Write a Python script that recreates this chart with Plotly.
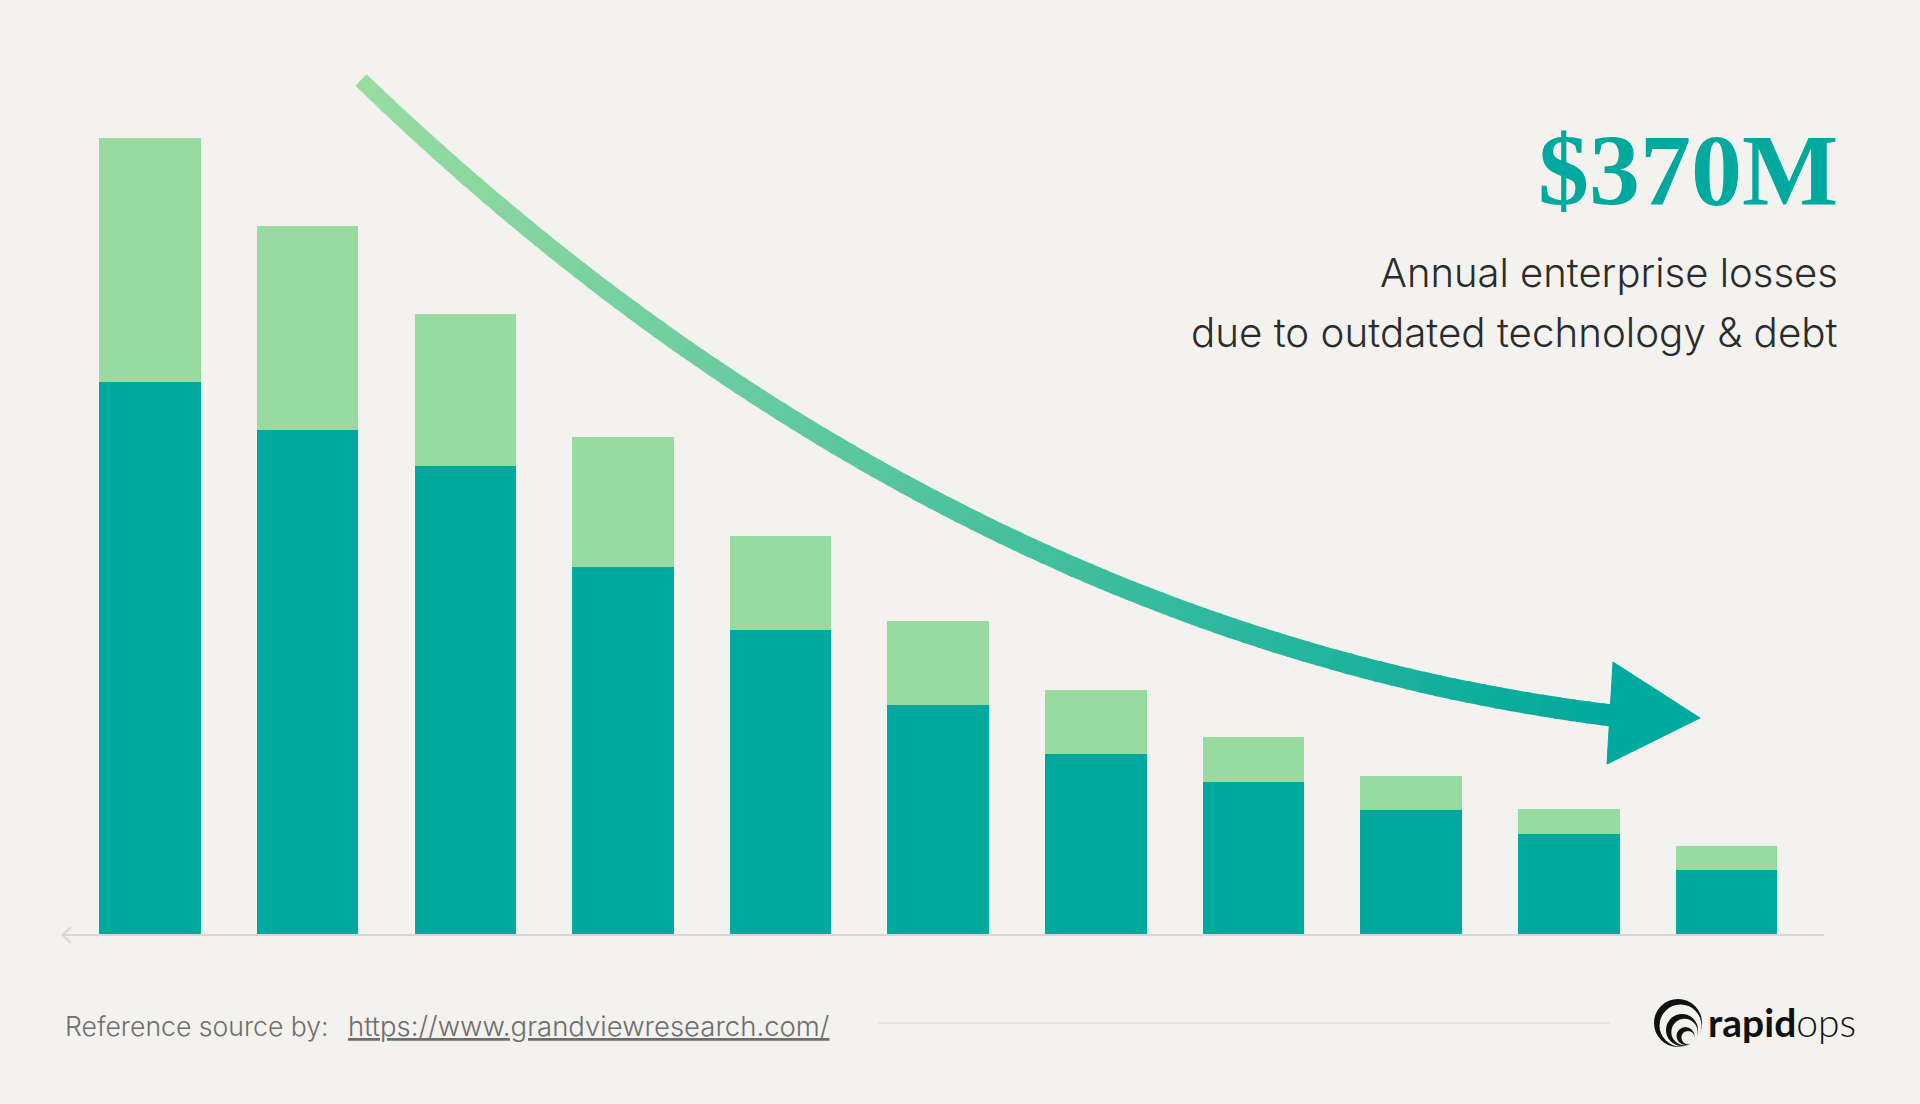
import plotly.graph_objects as go

# ---------------- data (arbitrary units) ----------------
categories = ["1", "2", "3", "4", "5", "6", "7", "8", "9", "10", "11"]
base_values = [451, 412, 382, 300, 248, 187, 147, 124, 101, 82, 52]
top_values = [199, 166, 124, 106, 77, 69, 52, 37, 28, 20, 20]

headline = "$370M"
subtitle_lines = ["Annual enterprise losses", "due to outdated technology & debt"]
source_label = "Reference source by:"
source_url = "https://www.grandviewresearch.com/"

# ---------------- styling ----------------
W, H = 1920, 1104
BG = "#F3F2EE"
DARK = "#00A99D"
LIGHT = "#98DBA0"


def X(px):
    return px / W


def Y(py):
    return 1 - py / H


# layout of the plot frame (pixels)
first_center_px = 150.0
step_px = 157.65
baseline_px = 934.0
unit_px = 1.2245

x_range = [-first_center_px / step_px, (W - first_center_px) / step_px]
y_range = [-(H - baseline_px) / unit_px, baseline_px / unit_px]

xs = list(range(len(categories)))

fig = go.Figure()
fig.add_trace(go.Bar(x=xs, y=base_values, marker=dict(color=DARK, line=dict(width=0)),
                     width=0.644, hoverinfo="skip", name="base"))
fig.add_trace(go.Bar(x=xs, y=top_values, marker=dict(color=LIGHT, line=dict(width=0)),
                     width=0.644, hoverinfo="skip", name="top"))

shapes = []

# axis baseline with left arrow
shapes.append(dict(type="line", xref="paper", yref="paper",
                   x0=X(62), x1=X(1824), y0=Y(935), y1=Y(935),
                   line=dict(color="#D8D7D3", width=2), layer="below"))
shapes.append(dict(type="path", xref="paper", yref="paper",
                   path=f"M{X(71)},{Y(927)} L{X(62.5)},{Y(935)} L{X(71)},{Y(943)}",
                   line=dict(color="#D8D7D3", width=2)))

# footer separator line
shapes.append(dict(type="line", xref="paper", yref="paper",
                   x0=X(878), x1=X(1610), y0=Y(1023), y1=Y(1023),
                   line=dict(color="#E4E3DF", width=2)))

# gradient curved arrow (decoration)
P = [(361, 80), (735, 441), (1163, 661), (1616, 716)]


def bez(t):
    a = (1 - t) ** 3
    b = 3 * (1 - t) ** 2 * t
    c = 3 * (1 - t) * t ** 2
    d = t ** 3
    return (a * P[0][0] + b * P[1][0] + c * P[2][0] + d * P[3][0],
            a * P[0][1] + b * P[1][1] + c * P[2][1] + d * P[3][1])


c0 = (154, 220, 160)
c1 = (0, 169, 157)
N = 90
for i in range(N):
    t0 = i / N
    t1 = min(1.0, (i + 1.25) / N)
    tm = (t0 + t1) / 2
    col = tuple(int(round(c0[k] + (c1[k] - c0[k]) * tm)) for k in range(3))
    w = 16 + 6 * tm
    xa, ya = bez(t0)
    xb, yb = bez(t1)
    shapes.append(dict(type="line", xref="paper", yref="paper",
                       x0=X(xa), y0=Y(ya), x1=X(xb), y1=Y(yb),
                       line=dict(color=f"rgb{col}", width=w)))

# arrow head
shapes.append(dict(type="path", xref="paper", yref="paper",
                   path=f"M{X(1613)},{Y(662)} L{X(1700)},{Y(718)} L{X(1607)},{Y(764)} Z",
                   fillcolor=DARK, line=dict(color=DARK, width=1)))


# logo icon (nested crescents)
def circ(cx, cy, r, color):
    return dict(type="circle", xref="paper", yref="paper",
                x0=X(cx - r), x1=X(cx + r), y0=Y(cy + r), y1=Y(cy - r),
                fillcolor=color, line=dict(width=0))


shapes += [
    circ(1678, 1023, 24, "#111111"),
    circ(1680.5, 1025.5, 21, BG),
    circ(1682, 1030, 16, "#111111"),
    circ(1684.5, 1032, 13.2, BG),
    circ(1685.5, 1036, 9, "#111111"),
    circ(1688, 1037.5, 6.6, BG),
]

SANS = "Inter"
annotations = [
    dict(text=headline, x=X(1840), y=Y(170), xref="paper", yref="paper",
         xanchor="right", yanchor="middle", showarrow=False,
         font=dict(family="Liberation Serif", size=102, color=DARK, weight="bold")),
    dict(text=subtitle_lines[0], x=X(1840), y=Y(272), xref="paper", yref="paper",
         xanchor="right", yanchor="middle", showarrow=False,
         font=dict(family=SANS, size=40, color="#2B2B2B", weight=300)),
    dict(text=subtitle_lines[1], x=X(1840), y=Y(332), xref="paper", yref="paper",
         xanchor="right", yanchor="middle", showarrow=False,
         font=dict(family=SANS, size=40.3, color="#2B2B2B", weight=300)),
    dict(text=source_label, x=X(63), y=Y(1026), xref="paper", yref="paper",
         xanchor="left", yanchor="middle", showarrow=False,
         font=dict(family=SANS, size=26.6, color="#6E6E6E", weight=300)),
    dict(text=source_url, x=X(346), y=Y(1026), xref="paper", yref="paper",
         xanchor="left", yanchor="middle", showarrow=False,
         font=dict(family=SANS, size=27.5, color="#6E6E6E", weight=300,
                   lineposition="under")),
    dict(text="<b>rapid</b><span style='font-weight:300'>ops</span>",
         x=X(1706), y=Y(1022), xref="paper", yref="paper",
         xanchor="left", yanchor="middle", showarrow=False,
         font=dict(family="Lato", size=39, color="#111111")),
]

fig.update_layout(
    width=W, height=H, autosize=False,
    margin=dict(l=0, r=0, t=0, b=0, pad=0),
    paper_bgcolor=BG, plot_bgcolor=BG,
    barmode="stack", bargap=0, showlegend=False,
    xaxis=dict(range=x_range, visible=False, fixedrange=True),
    yaxis=dict(range=y_range, visible=False, fixedrange=True),
    shapes=shapes, annotations=annotations,
)

fig.write_html(
    "out.html",
    config={"displayModeBar": False},
    post_script="document.body.style.margin='0';document.body.style.background='#F3F2EE';"
                "document.documentElement.style.overflow='hidden';",
)
